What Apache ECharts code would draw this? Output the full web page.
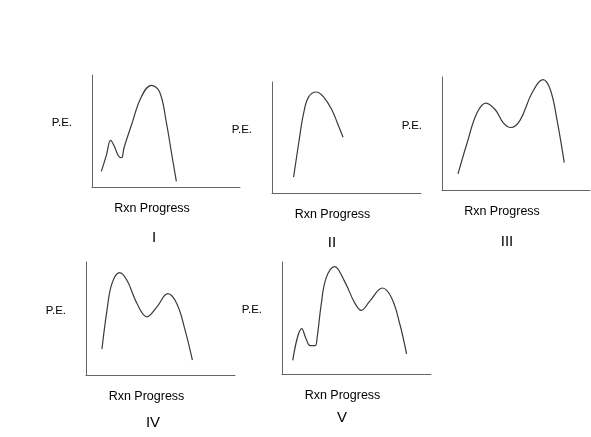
<!DOCTYPE html>
<html>
<head>
<meta charset="utf-8">
<script src="https://cdn.jsdelivr.net/npm/echarts@6/dist/echarts.min.js"></script>
<style>
  html, body { margin: 0; padding: 0; background: #fff; }
  #chart { width: 591px; height: 437px; }
</style>
</head>
<body>
<div id="chart"></div>
<script>
// panel names, axis titles
var panelNames = ['I', 'II', 'III', 'IV', 'V']
var xAxisTitle = 'Rxn Progress'
var yAxisTitle = 'P.E.'

// curves, [progress, energy] on a 0-100 scale per panel
var curveI = [[6.3, 14.0], [9.7, 28.3], [12.6, 41.7], [15.3, 35.7], [17.6, 28.3], [19.4, 26.2],
  [20.5, 26.8], [21.6, 34.8], [26.6, 55.1], [33.3, 80.4], [40.1, 90.8], [45.7, 84.8],
  [50.2, 58.0], [53.6, 31.3], [57.0, 5.1]]
var curveII = [[14.5, 14.3], [17.9, 44.8], [21.2, 71.7], [24.6, 86.6], [29.7, 91.0],
  [34.6, 86.6], [40.3, 74.6], [44.0, 62.7], [47.7, 50.2]]
var curveIII = [[10.8, 14.2], [16.9, 41.4], [23.6, 68.1], [29.7, 76.9], [36.0, 71.0],
  [41.6, 59.2], [46.6, 55.3], [52.9, 62.1], [60.8, 85.8], [68.2, 97.6], [73.2, 88.7],
  [77.7, 62.1], [82.6, 24.2]]
var curveIV = [[10.7, 22.9], [14.1, 57.4], [17.4, 80.9], [22.5, 90.6], [27.5, 83.8],
  [34.2, 63.3], [40.9, 51.5], [47.6, 60.3], [54.9, 72.1], [60.9, 63.3], [66.5, 39.7],
  [71.4, 13.2]]
var curveV = [[7.2, 12.1], [13.3, 40.6], [16.2, 31.2], [18.9, 25.3], [22.2, 25.3],
  [23.6, 32.7], [26.3, 62.0], [29.6, 85.6], [35.3, 95.9], [42.0, 82.7], [48.8, 63.5],
  [53.2, 56.8], [58.9, 65.0], [67.4, 76.8], [73.5, 68.0], [79.1, 44.4], [83.6, 17.9]]

var curves = [curveI, curveII, curveIII, curveIV, curveV]

// where each little plot sits on the page
var boxes = [
  { left: 92, top: 75, width: 148, height: 112 },
  { left: 272, top: 82, width: 149, height: 111 },
  { left: 442, top: 77, width: 148, height: 113 },
  { left: 86, top: 262, width: 149, height: 113 },
  { left: 282, top: 262, width: 149, height: 112 }
]
var numeralPos = [[154, 238], [332, 243], [507, 242], [153, 423], [342, 418]]

var font = 'Liberation Sans, Arial, sans-serif'
var axisColor = '#666'

var chart = echarts.init(document.getElementById('chart'))

var grids = [], xAxes = [], yAxes = [], series = [], texts = []
boxes.forEach(function (b, i) {
  grids.push({ left: b.left, top: b.top, width: b.width, height: b.height, containLabel: false })
  xAxes.push({
    type: 'value', gridIndex: i, min: 0, max: 100,
    axisLine: { show: true, onZero: false, lineStyle: { color: axisColor, width: 1 } },
    axisTick: { show: false }, axisLabel: { show: false }, splitLine: { show: false },
    name: xAxisTitle, nameLocation: 'middle', nameGap: 15,
    nameTextStyle: { color: '#000', fontSize: 12.5, fontFamily: font, padding: [0, 28, 0, 0] }
  })
  yAxes.push({
    type: 'value', gridIndex: i, min: 0, max: 100,
    axisLine: { show: true, onZero: false, lineStyle: { color: axisColor, width: 1 } },
    axisTick: { show: false }, axisLabel: { show: false }, splitLine: { show: false },
    name: yAxisTitle, nameLocation: 'middle', nameRotate: 0, nameGap: 20,
    nameTextStyle: { color: '#000', fontSize: 11.5, fontFamily: font, verticalAlign: 'bottom', lineHeight: 16 }
  })
  series.push({
    type: 'line', xAxisIndex: i, yAxisIndex: i, data: curves[i],
    smooth: 0.4, showSymbol: false, silent: true,
    lineStyle: { color: '#3a3a3a', width: 1.2 }
  })
  texts.push({
    type: 'text', x: numeralPos[i][0], y: numeralPos[i][1],
    style: { text: panelNames[i], fill: '#000', font: '15px ' + font, textAlign: 'center', textVerticalAlign: 'middle' }
  })
})

chart.setOption({
  animation: false,
  backgroundColor: '#fff',
  grid: grids,
  xAxis: xAxes,
  yAxis: yAxes,
  series: series,
  graphic: texts
})
</script>
</body>
</html>
